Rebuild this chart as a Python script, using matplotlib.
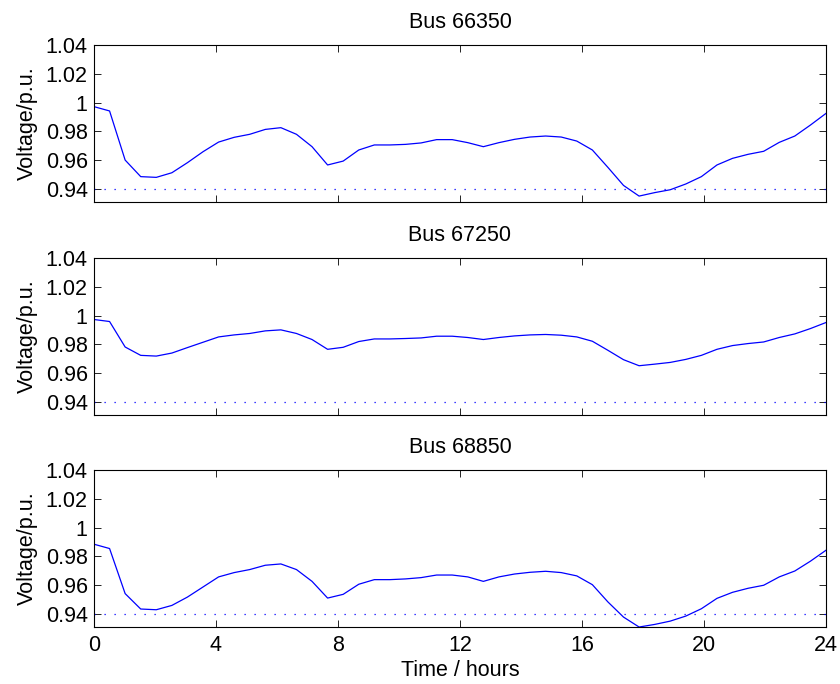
import numpy as np
import matplotlib
matplotlib.use('Agg')
import matplotlib.pyplot as plt

plt.rcParams['font.family'] = ['Liberation Sans', 'DejaVu Sans']

# half-hourly samples stretched over 0..24 h
hours = np.linspace(0, 24, 48)

bus_names = ['Bus 66350', 'Bus 67250', 'Bus 68850']

v_66350 = [0.9972, 0.9942, 0.9601, 0.9486, 0.9481, 0.9513, 0.9583, 0.9659,
           0.9726, 0.9759, 0.9780, 0.9814, 0.9826, 0.9780, 0.9694, 0.9567,
           0.9594, 0.9671, 0.9706, 0.9706, 0.9710, 0.9720, 0.9743, 0.9743,
           0.9722, 0.9694, 0.9722, 0.9745, 0.9761, 0.9768, 0.9761, 0.9733,
           0.9671, 0.9550, 0.9425, 0.9351, 0.9375, 0.9395, 0.9435, 0.9486,
           0.9567, 0.9613, 0.9641, 0.9662, 0.9724, 0.9768, 0.9844, 0.9925]

v_67250 = [0.9973, 0.9959, 0.9782, 0.9724, 0.9719, 0.9740, 0.9778, 0.9815,
           0.9852, 0.9866, 0.9876, 0.9894, 0.9901, 0.9876, 0.9834, 0.9766,
           0.9780, 0.9820, 0.9838, 0.9838, 0.9841, 0.9845, 0.9857, 0.9857,
           0.9848, 0.9834, 0.9848, 0.9859, 0.9866, 0.9869, 0.9864, 0.9852,
           0.9822, 0.9759, 0.9694, 0.9652, 0.9663, 0.9675, 0.9696, 0.9724,
           0.9766, 0.9792, 0.9806, 0.9817, 0.9848, 0.9873, 0.9910, 0.9952]

v_68850 = [0.9885, 0.9855, 0.9542, 0.9435, 0.9430, 0.9460, 0.9518, 0.9588,
           0.9658, 0.9688, 0.9709, 0.9739, 0.9748, 0.9709, 0.9627, 0.9511,
           0.9537, 0.9607, 0.9639, 0.9639, 0.9644, 0.9653, 0.9671, 0.9671,
           0.9658, 0.9627, 0.9658, 0.9678, 0.9690, 0.9697, 0.9688, 0.9665,
           0.9604, 0.9484, 0.9379, 0.9310, 0.9328, 0.9351, 0.9386, 0.9437,
           0.9509, 0.9551, 0.9579, 0.9600, 0.9658, 0.9699, 0.9767, 0.9843]

v_limit = 0.94
y_ticks = [0.94, 0.96, 0.98, 1.0, 1.02, 1.04]
y_tick_labels = ['0.94', '0.96', '0.98', '1', '1.02', '1.04']
x_ticks = [0, 4, 8, 12, 16, 20, 24]

series = [v_66350, v_67250, v_68850]
ymin = min(min(s) for s in series)

fs = 15.5
fig = plt.figure(figsize=(8.4, 6.84), dpi=100)
bottoms = [0.7047, 0.3933, 0.0833]

for k in range(3):
    ax = fig.add_axes([0.1119, bottoms[k], 0.8714, 0.2295])
    ax.plot(hours, series[k], color='blue', lw=0.9)
    ax.plot([0, 24], [v_limit, v_limit], color='blue', lw=0.9,
            linestyle=(0, (1, 7)))
    ax.set_xlim(0, 24)
    ax.set_ylim(ymin, 1.04)
    ax.set_yticks(y_ticks)
    ax.set_yticklabels(y_tick_labels)
    ax.set_xticks(x_ticks)
    ax.tick_params(direction='in', top=True, right=True, labelsize=fs,
                   length=5.3, width=0.6)
    ax.tick_params(axis='y', pad=4.5)
    ax.tick_params(axis='x', pad=6)
    for sp in ax.spines.values():
        sp.set_linewidth(0.8)
    ax.set_ylabel('Voltage/p.u.', fontsize=fs, labelpad=6)
    ax.set_title(bus_names[k], fontsize=fs, pad=12.5)
    if k < 2:
        ax.set_xticklabels([])
    else:
        ax.set_xlabel('Time / hours', fontsize=fs, labelpad=2.5)

fig.savefig('out.png', dpi=100)
